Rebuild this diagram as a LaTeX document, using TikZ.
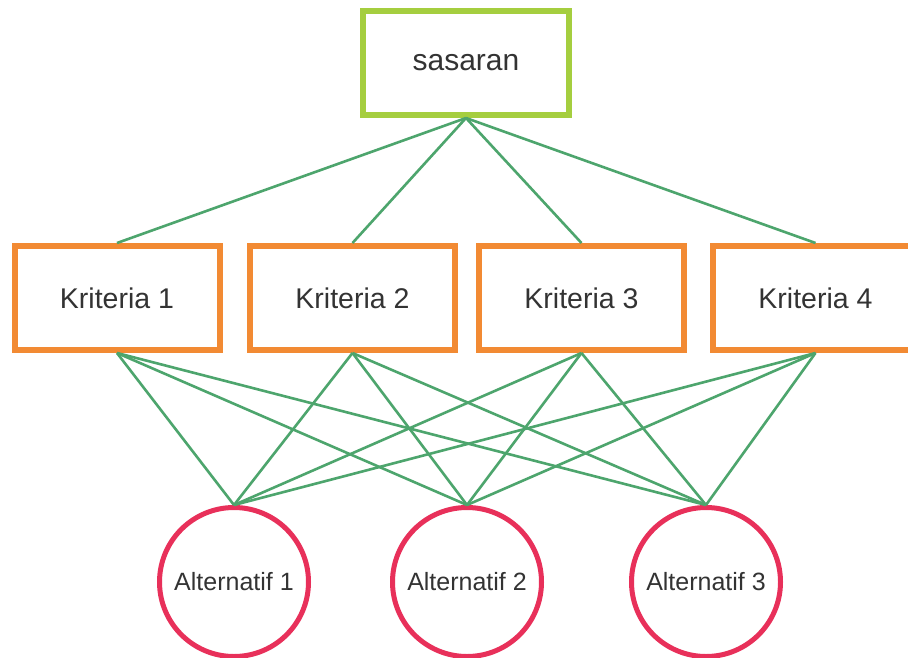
\documentclass[tikz,border=0pt]{standalone}
\usepackage{fontspec}
\setmainfont{Liberation Sans}
\definecolor{goalgreen}{HTML}{A5CE3F}
\definecolor{critorange}{HTML}{F28A33}
\definecolor{altred}{HTML}{E8305A}
\definecolor{linkgreen}{HTML}{4DA56D}
\definecolor{txtgray}{HTML}{333333}
\begin{document}
\begin{tikzpicture}[x=1pt,y=-1pt,
  goalbox/.style={draw=goalgreen,line width=6pt,fill=white,minimum width=206pt,minimum height=104pt,inner sep=0pt,text=txtgray,font=\fontsize{30}{34}\selectfont},
  critbox/.style={draw=critorange,line width=6pt,fill=white,minimum width=205pt,minimum height=104pt,inner sep=0pt,text=txtgray,font=\fontsize{28.5}{32}\selectfont},
  altcirc/.style={circle,draw=altred,line width=5pt,fill=white,minimum size=149pt,inner sep=0pt,text=txtgray,font=\fontsize{25}{28}\selectfont},
  link/.style={draw=linkgreen,line width=2.6pt}]
\useasboundingbox (0,0) rectangle (908,657);
\fill[white] (0,0) rectangle (908,657);
\begin{scope}
\clip (0,0) rectangle (908,657);
\node[goalbox] (g) at (466,63) {sasaran};
\node[critbox] (k1) at (117,298) {Kriteria 1};
\node[critbox] (k2) at (352.5,298) {Kriteria 2};
\node[critbox] (k3) at (581.5,298) {Kriteria 3};
\node[critbox] (k4) at (815.5,298) {Kriteria 4};
\node[altcirc] (a1) at (234,582) {Alternatif 1};
\node[altcirc] (a2) at (467,582) {Alternatif 2};
\node[altcirc] (a3) at (706,582) {Alternatif 3};
\begin{scope}[on background layer/.try]
\end{scope}
\foreach \k in {k1,k2,k3,k4}{
  \draw[link] (g.south) -- (\k.north);
  \foreach \a in {a1,a2,a3}{
    \draw[link] (\k.south) -- (\a.north);
  }
}
\end{scope}
\end{tikzpicture}
\end{document}
